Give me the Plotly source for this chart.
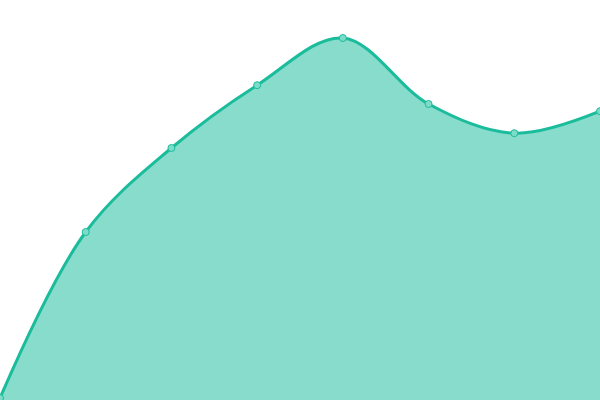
import plotly.graph_objects as go

categories = [0, 1, 2, 3, 4, 5, 6, 7]
values = [0.5, 42, 63, 78.7, 90.5, 74, 66.7, 72.2]

fig = go.Figure()
fig.add_trace(go.Scatter(
    x=categories, y=values,
    mode="lines+markers",
    line=dict(color="#1abc9c", width=3, shape="spline", smoothing=1),
    marker=dict(size=7, color="#7ddcc9", line=dict(color="#1abc9c", width=1)),
    fill="tozeroy",
    fillcolor="rgba(26,188,156,0.52)",
    hoverinfo="skip",
))
fig.update_layout(
    width=600, height=400,
    margin=dict(l=0, r=0, t=0, b=0),
    paper_bgcolor="white", plot_bgcolor="white",
    showlegend=False,
    xaxis=dict(range=[0, 7], visible=False, fixedrange=True),
    yaxis=dict(range=[0, 100], visible=False, fixedrange=True),
)
fig.write_html("out.html", config={"displayModeBar": False},
               post_script="document.body.style.margin='0';document.body.style.overflow='hidden';")
